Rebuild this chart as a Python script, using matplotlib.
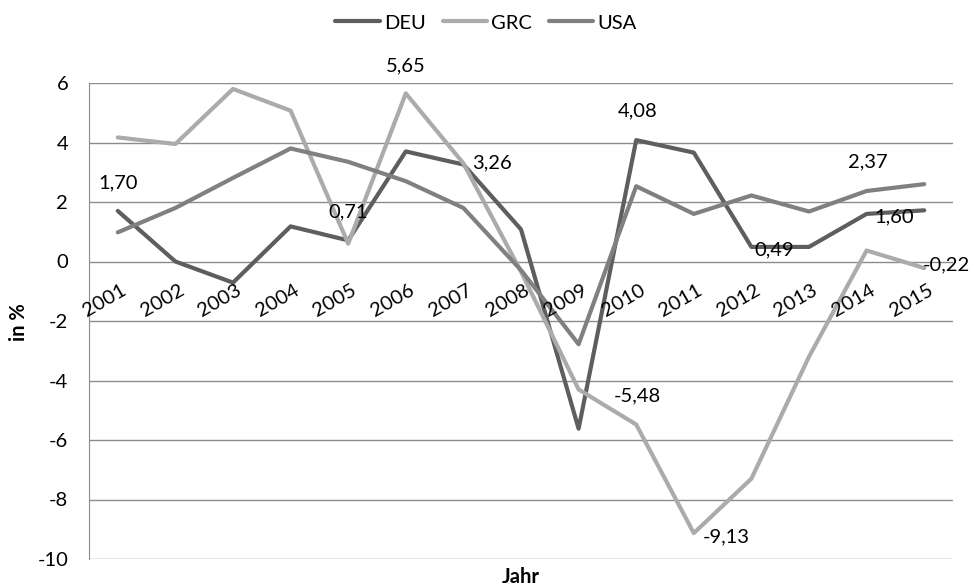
import numpy as np
import matplotlib
matplotlib.use("Agg")
import matplotlib.pyplot as plt

plt.rcParams["font.family"] = ["Lato", "DejaVu Sans"]

years = ["2001", "2002", "2003", "2004", "2005", "2006", "2007", "2008",
         "2009", "2010", "2011", "2012", "2013", "2014", "2015"]

deu = [1.70, 0.00, -0.71, 1.18, 0.71, 3.70, 3.26, 1.08,
       -5.62, 4.08, 3.66, 0.49, 0.49, 1.60, 1.72]
grc = [4.17, 3.95, 5.80, 5.07, 0.60, 5.65, 3.30, -0.34,
       -4.30, -5.48, -9.13, -7.30, -3.20, 0.37, -0.22]
usa = [0.98, 1.80, 2.81, 3.80, 3.35, 2.70, 1.80, -0.29,
       -2.78, 2.53, 1.60, 2.22, 1.68, 2.37, 2.60]

series_names = ["DEU", "GRC", "USA"]
series_colors = ["#5e5e5e", "#ababab", "#808080"]

# (series, year index, label, x offset px, y offset px)
labels = [
    (deu, 0, "1,70", 0, 28),
    (grc, 5, "5,65", 0, 28),
    (deu, 4, "0,71", 0, 29),
    (deu, 6, "3,26", 29, 2),
    (deu, 9, "4,08", 1, 29),
    (deu, 11, "0,49", 23, -3),
    (usa, 13, "2,37", 1, 29),
    (deu, 13, "1,60", 28, -3),
    (grc, 14, "-0,22", 22, 3),
    (grc, 9, "-5,48", 1, 29),
    (grc, 10, "-9,13", 32, -4),
]

FS = 14.5

fig = plt.figure(figsize=(9.72, 5.87), dpi=100)
ax = fig.add_axes([89 / 972, 1 - 559 / 587, (953 - 89) / 972, (559 - 83) / 587])

x = np.arange(len(years))
for data, name, col in zip([deu, grc, usa], series_names, series_colors):
    ax.plot(x, data, color=col, lw=3.0, label=name, solid_joinstyle="round",
            solid_capstyle="round", zorder=3)

ax.set_xlim(-0.5, len(years) - 0.5)
ax.set_ylim(-10, 6)
ax.set_yticks(np.arange(-10, 7, 2))
ax.set_yticklabels([str(v) for v in range(-10, 7, 2)], fontsize=FS)
ax.grid(axis="y", color="#8c8c8c", lw=1.0, zorder=1)
ax.set_xticks([])
for s in ["top", "right", "bottom"]:
    ax.spines[s].set_visible(False)
ax.spines["left"].set_color("#8c8c8c")
ax.tick_params(axis="y", length=0, pad=15)

# category labels at the zero line
for i, yr in enumerate(years):
    ax.annotate(yr, (i, 0), xytext=(3, -20), textcoords="offset pixels",
                rotation=30, ha="right", va="top", rotation_mode="anchor",
                fontsize=FS)

for data, i, txt, dx, dy in labels:
    ax.annotate(txt, (i, data[i]), xytext=(dx, dy), textcoords="offset pixels",
                ha="center", va="center", fontsize=FS, zorder=4)

fig.text(19 / 972, 1 - 322 / 587, "in %", ha="center", va="center", rotation=90,
         fontsize=FS, fontweight="bold")
fig.text(521 / 972, 1 - 577 / 587, "Jahr", ha="center", va="center",
         fontsize=FS, fontweight="bold")

ax.legend(loc="center", bbox_to_anchor=(0.5, 1 - 23 / 587), bbox_transform=fig.transFigure,
          ncol=3, frameon=False, fontsize=FS, handlelength=2.2, handletextpad=0.2,
          columnspacing=0.85, borderpad=0)

fig.savefig("out.png", dpi=100)
